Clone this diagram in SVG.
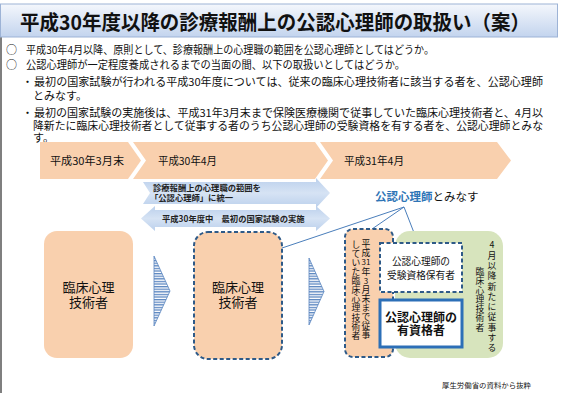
<svg xmlns="http://www.w3.org/2000/svg" width="563" height="418" viewBox="0 0 563 418">
<defs>
<linearGradient id="tg" x1="0" y1="0" x2="0" y2="1">
<stop offset="0" stop-color="#F4F7FC"/>
<stop offset="1" stop-color="#C3D4EE"/>
</linearGradient>
<linearGradient id="ag" x1="0" y1="0" x2="0" y2="1">
<stop offset="0" stop-color="#BBD0EC"/>
<stop offset="0.5" stop-color="#D6E3F4"/>
<stop offset="1" stop-color="#BBD0EC"/>
</linearGradient>
<pattern id="stripe" width="4" height="2.6" patternUnits="userSpaceOnUse">
<rect width="4" height="2.6" fill="#FFFFFF"/>
<rect width="4" height="1.3" fill="#5B86C0"/>
</pattern>
</defs>
<style>
text{font-family:"Noto Sans CJK JP","Noto Sans",sans-serif;fill:#111}
.body{font-size:11px}
.chev{fill:#F9D0AE}
.chevt{font-size:11px}
.arrow{fill:url(#ag)}
.arrt{font-size:8.3px;font-weight:bold;fill:#222}
.org{fill:#F9D0AE}
.dash{stroke:#2E5A88;stroke-width:2;stroke-dasharray:4 2.5}
.node{font-size:13px;text-anchor:middle}
.vt{font-size:8.8px;text-anchor:middle}
.conn{stroke:#4A7EBB;stroke-width:1;fill:none}
</style>
<rect width="563" height="418" fill="#FFFFFF"/>
<!-- frame -->
<line x1="1" y1="36" x2="1" y2="393" stroke="#7F7F7F" stroke-width="2"/>
<!-- title -->
<g id="title">
<rect x="0.5" y="4" width="557" height="33" fill="url(#tg)" stroke="#9DB3D6" stroke-width="1"/>
<text x="20" y="30" font-size="20" font-weight="bold" textLength="510" lengthAdjust="spacingAndGlyphs">平成30年度以降の診療報酬上の公認心理師の取扱い（案）</text>
</g>
<!-- body text -->
<g id="bodytext">
<text class="body" x="6" y="53.5">○</text>
<text class="body" x="26" y="53.5" textLength="408" lengthAdjust="spacingAndGlyphs">平成30年4月以降、原則として、診療報酬上の心理職の範囲を公認心理師としてはどうか。</text>
<text class="body" x="6" y="68.5">○</text>
<text class="body" x="26" y="68.5" textLength="379" lengthAdjust="spacingAndGlyphs">公認心理師が一定程度養成されるまでの当面の間、以下の取扱いとしてはどうか。</text>
<text class="body" x="22" y="86">・</text>
<text class="body" x="34" y="86" textLength="509" lengthAdjust="spacingAndGlyphs">最初の国家試験が行われる平成30年度については、従来の臨床心理技術者に該当する者を、公認心理師</text>
<text class="body" x="33" y="100">とみなす。</text>
<text class="body" x="22" y="116.5">・</text>
<text class="body" x="34" y="116.5" textLength="509" lengthAdjust="spacingAndGlyphs">最初の国家試験の実施後は、平成31年3月末まで保険医療機関で従事していた臨床心理技術者と、4月以</text>
<text class="body" x="33" y="130" textLength="510" lengthAdjust="spacingAndGlyphs">降新たに臨床心理技術者として従事する者のうち公認心理師の受験資格を有する者を、公認心理師とみな</text>
<text class="body" x="33" y="141.5">す。</text>
</g>
<!-- timeline -->
<g id="t1">
<polygon class="chev" points="40,142 128,142 141,160.5 128,179 40,179"/>
<text class="chevt" x="50" y="165" textLength="74" lengthAdjust="spacingAndGlyphs">平成30年3月末</text>
</g>
<g id="t2">
<polygon class="chev" points="133,142 315,142 328,160.5 315,179 133,179 146,160.5"/>
<text class="chevt" x="158" y="165" textLength="59" lengthAdjust="spacingAndGlyphs">平成30年4月</text>
</g>
<g id="t3">
<polygon class="chev" points="320,142 497,142 511,160.5 497,179 320,179 333,160.5"/>
<text class="chevt" x="344" y="165" textLength="60" lengthAdjust="spacingAndGlyphs">平成31年4月</text>
</g>
<!-- blue arrows -->
<g id="a1">
<polygon class="arrow" points="143,182 316,182 316,178 330,193 316,208 316,204 143,204 150,193"/>
<text class="arrt" x="153" y="191">診療報酬上の心理職の範囲を</text>
<text class="arrt" x="150" y="201">「公認心理師」に統一</text>
</g>
<g id="a2">
<polygon class="arrow" points="141,218.5 155,206 155,210 316,210 316,206 330,218.5 316,231 316,227 155,227 155,231"/>
<text class="arrt" x="162" y="221.5">平成30年度中　最初の国家試験の実施</text>
</g>
<!-- connectors -->
<g id="connectors">
<line class="conn" x1="404" y1="207" x2="282" y2="248"/>
<line class="conn" x1="404" y1="207" x2="372" y2="229"/>
<line class="conn" x1="404" y1="207" x2="418" y2="243"/>
<polygon points="154,256 170,291 154,326" fill="url(#stripe)" stroke="#5B86C0" stroke-width="0.8"/>
<polygon points="309,258 324,291.5 309,325" fill="url(#stripe)" stroke="#5B86C0" stroke-width="0.8"/>
</g>
<!-- label -->
<g id="label">
<text x="375" y="201" font-size="11.5"><tspan font-weight="bold" fill="#2E75B6">公認心理師</tspan><tspan>とみなす</tspan></text>
</g>
<!-- nodes -->
<g id="n1">
<rect class="org" x="44" y="231" width="89" height="127" rx="13"/>
<text class="node" x="88.5" y="292">臨床心理</text>
<text class="node" x="88.5" y="307">技術者</text>
</g>
<g id="n2">
<rect class="org dash" x="194" y="232" width="88" height="127" rx="14"/>
<text class="node" x="238" y="292">臨床心理</text>
<text class="node" x="238" y="307">技術者</text>
</g>
<g id="n4">
<rect x="395" y="231" width="108" height="127" rx="15" fill="#D7E4BD"/>
<g class="vt">
<text x="492" y="248.3">4</text>
<text x="492" y="258.6">月</text>
<text x="492" y="268.9">以</text>
<text x="492" y="279.2">降</text>
<text x="492" y="289.5">新</text>
<text x="492" y="299.8">た</text>
<text x="492" y="310.1">に</text>
<text x="492" y="320.4">従</text>
<text x="492" y="330.7">事</text>
<text x="492" y="341">す</text>
<text x="492" y="351.3">る</text>
<text x="480" y="274.9">臨</text>
<text x="480" y="284.2">床</text>
<text x="480" y="293.5">心</text>
<text x="480" y="302.8">理</text>
<text x="480" y="312.1">技</text>
<text x="480" y="321.4">術</text>
<text x="480" y="330.7">者</text>
</g>
</g>
<g id="n3">
<rect class="org dash" x="345" y="229" width="48" height="128" rx="8"/>
<g class="vt">
<text x="366" y="247.2">平</text>
<text x="366" y="256.3">成</text>
<text x="366" y="265.3" font-size="8">31</text>
<text x="366" y="274.5">年</text>
<text x="366" y="283.6" font-size="8">3</text>
<text x="366" y="292.7">月</text>
<text x="366" y="301.8">末</text>
<text x="366" y="310.9">ま</text>
<text x="366" y="320">で</text>
<text x="366" y="329.1">従</text>
<text x="366" y="338.2">事</text>
<text x="356" y="247.7">し</text>
<text x="356" y="256.8">て</text>
<text x="356" y="265.9">い</text>
<text x="356" y="275">た</text>
<text x="356" y="284.1">臨</text>
<text x="356" y="293.2">床</text>
<text x="356" y="302.3">心</text>
<text x="356" y="311.4">理</text>
<text x="356" y="320.5">技</text>
<text x="356" y="329.6">術</text>
<text x="356" y="338.7">者</text>
</g>
</g>
<g id="n5">
<rect class="dash" x="380" y="243" width="82" height="49" fill="#FFFFFF"/>
<text x="421" y="265" font-size="9.7" text-anchor="middle">公認心理師の</text>
<text x="421" y="278.5" font-size="9.7" text-anchor="middle">受験資格保有者</text>
</g>
<g id="n6">
<rect x="380" y="300" width="82" height="47" fill="#FFFFFF" stroke="#2C6FB7" stroke-width="3"/>
<text x="421" y="321.5" font-size="12" font-weight="bold" text-anchor="middle">公認心理師の</text>
<text x="421" y="335" font-size="12" font-weight="bold" text-anchor="middle">有資格者</text>
</g>
<!-- footer -->
<text x="442" y="388" font-size="7.4" fill="#555555" textLength="89" lengthAdjust="spacingAndGlyphs">厚生労働省の資料から抜粋</text>
</svg>
